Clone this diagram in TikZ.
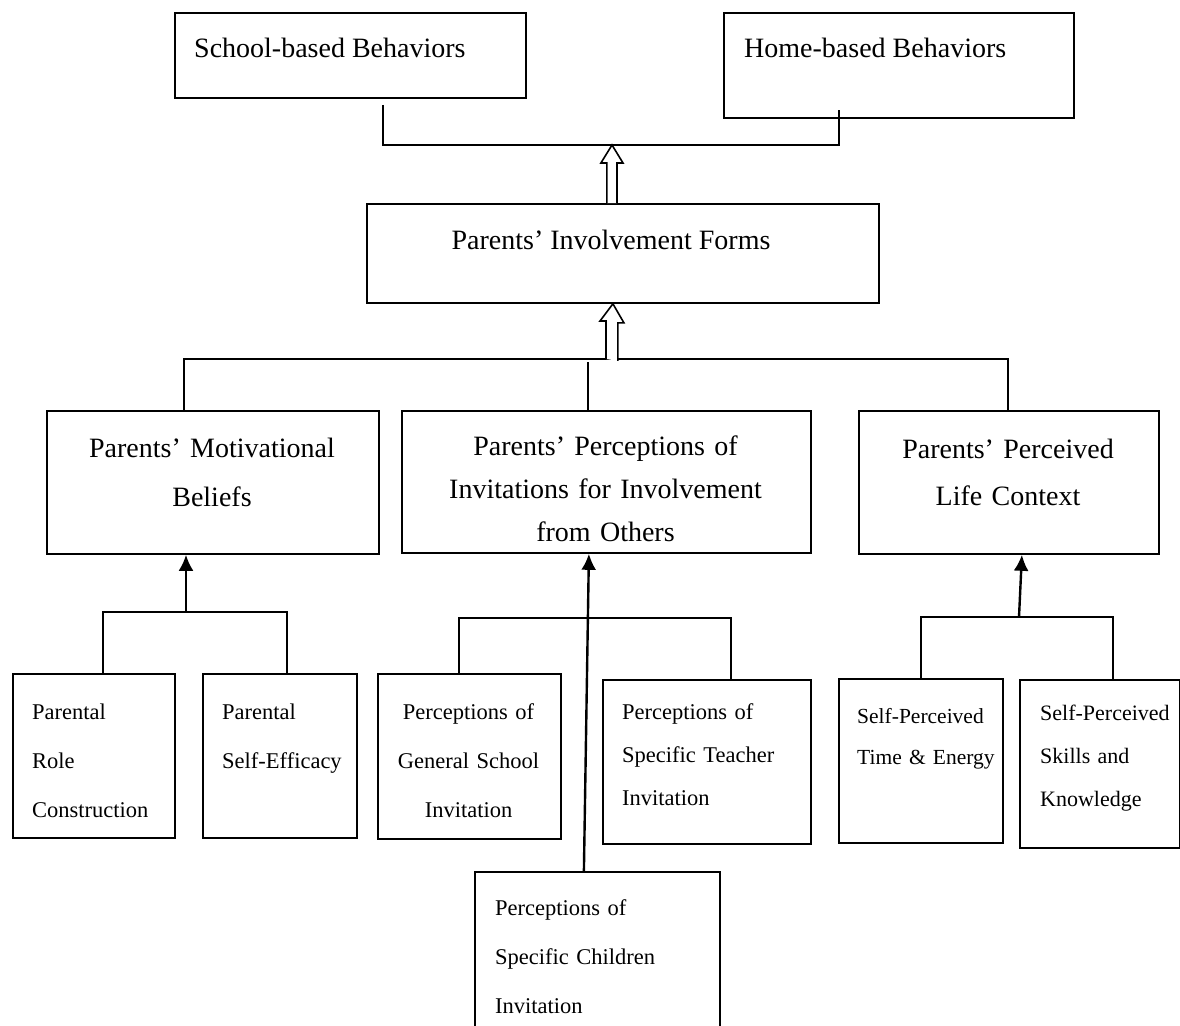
\documentclass[tikz,border=0pt]{standalone}
\usepackage{fontspec}
\setmainfont{Liberation Serif}
\usetikzlibrary{calc,arrows.meta}
\begin{document}
\begin{tikzpicture}[x=1pt,y=-1pt,
  box/.style={draw, line width=1.8pt, rectangle, inner sep=0pt, anchor=north west},
  bigtxt/.style={inner sep=0pt, font=\fontsize{28}{49}\selectfont},
  smtxt/.style={inner sep=0pt, font=\fontsize{22.5}{49}\selectfont},
  conn/.style={draw, line width=1.6pt},
  arr/.style={draw, line width=2.4pt, -{Latex[length=16pt,width=15pt]}},
  hollow/.style={draw, line width=1.6pt, fill=white, line join=miter}]
\useasboundingbox (0,0) rectangle (1180,1025);

% boxes
\node[box, minimum width=351, minimum height=85] (school) at (174,12) {};
\node[box, minimum width=350, minimum height=105] (home) at (723,12) {};
\node[box, minimum width=512, minimum height=99] (inv) at (366,203) {};
\node[box, minimum width=332, minimum height=143] (mot) at (46,410) {};
\node[box, minimum width=409, minimum height=142] (perc) at (401,410) {};
\node[box, minimum width=300, minimum height=143] (life) at (858,410) {};
\node[box, minimum width=162, minimum height=164] (role) at (12,673) {};
\node[box, minimum width=154, minimum height=164] (eff) at (202,673) {};
\node[box, minimum width=183, minimum height=165] (gen) at (377,673) {};
\node[box, minimum width=208, minimum height=164] (tea) at (602,679) {};
\node[box, minimum width=245, minimum height=175] (chi) at (474,871) {};
\node[box, minimum width=164, minimum height=164] (time) at (838,678) {};
\node[box, minimum width=160, minimum height=168] (skills) at (1019,679) {};

% texts
\node[bigtxt, anchor=base west] (schoolT) at (194,58) {School-based Behaviors};
\node[bigtxt, anchor=base west] (homeT) at (744,58) {Home-based Behaviors};
\node[bigtxt, anchor=base] (invT) at (611,249) {Parents’ Involvement Forms};
\node[bigtxt, anchor=base, text width=330, align=center] (motT) at (212,457) {Parents’ Motivational\\Beliefs};
\node[bigtxt, anchor=base, text width=405, align=center, font=\fontsize{28}{43}\selectfont] (percT) at (605.5,455) {Parents’ Perceptions of\\Invitations for Involvement\\from Others};
\node[bigtxt, anchor=base, text width=298, align=center, font=\fontsize{28}{47}\selectfont] (lifeT) at (1008,458) {Parents’ Perceived\\Life Context};

\node[smtxt, anchor=base west, text width=140, align=left] (roleT) at (32,719) {Parental\\Role\\Construction};
\node[smtxt, anchor=base west, text width=130, align=left] (effT) at (222,719) {Parental\\Self-Efficacy};
\node[smtxt, anchor=base, text width=180, align=center] (genT) at (468.5,719) {Perceptions of\\General School\\Invitation};
\node[smtxt, anchor=base west, text width=185, align=left, font=\fontsize{22.5}{43}\selectfont] (teaT) at (622,719) {Perceptions of\\Specific Teacher\\Invitation};
\node[smtxt, anchor=base west, text width=220, align=left] (chiT) at (495,915) {Perceptions of\\Specific Children\\Invitation};
\node[smtxt, anchor=base west, text width=140, align=left, font=\fontsize{21.5}{41}\selectfont] (timeT) at (857,723) {Self-Perceived\\Time \& Energy};
\node[smtxt, anchor=base west, text width=138, align=left, font=\fontsize{22}{43}\selectfont] (skillsT) at (1040,720) {Self-Perceived\\Skills and\\Knowledge};

% junctions
\coordinate (j0) at (612,145);
\coordinate (j1) at (612,359);
\coordinate (mj) at (186,612);
\coordinate (pj) at (587,618);
\coordinate (lj) at (1019,617);

% top bracket
\draw[conn] ($(school.south)+(32.5,6)$) |- (j0) -| ($(home.south)+(-60,-9)$);
% hollow arrow to top bracket
\draw[hollow] ($(inv.north)+(-16,0)$) -- ++(0,-40) -- ++(-6,0) -- (j0) -- ++(11,18) -- ++(-6,0) -- ++(0,40);

% middle bracket
\draw[conn] ($(mot.north)+(-29,0)$) |- (j1) -| ($(life.north)+(-1,0)$);
\draw[conn] ($(perc.north)+(-18.5,0)$) -- ++(0,-48);
\draw[hollow] ($(j1)+(-6,0)$) -- ++(0,-38) -- ++(-6,0) -- ($(inv.south)+(-10,0)$) -- ++(11,19) -- ++(-6,0) -- ++(0,38);

% motivational beliefs
\draw[conn] ($(role.north)+(9,0)$) |- (mj) -| ($(eff.north)+(7,0)$);
\draw[arr] (mj) -- (mot.south -| mj);

% perceptions
\draw[conn] ($(gen.north)+(-10.5,0)$) |- (pj) -| ($(tea.north)+(24,0)$);
\draw[arr] ($(chi.north)+(-13.5,0)$) -- ($(perc.south)+(-17.5,0)$);

% life context
\draw[conn] ($(time.north)+(0,0)$) |- (lj) -| ($(skills.north)+(13,0)$);
\draw[arr] (lj) -- ($(life.south)+(13,0)$);
\end{tikzpicture}
\end{document}
